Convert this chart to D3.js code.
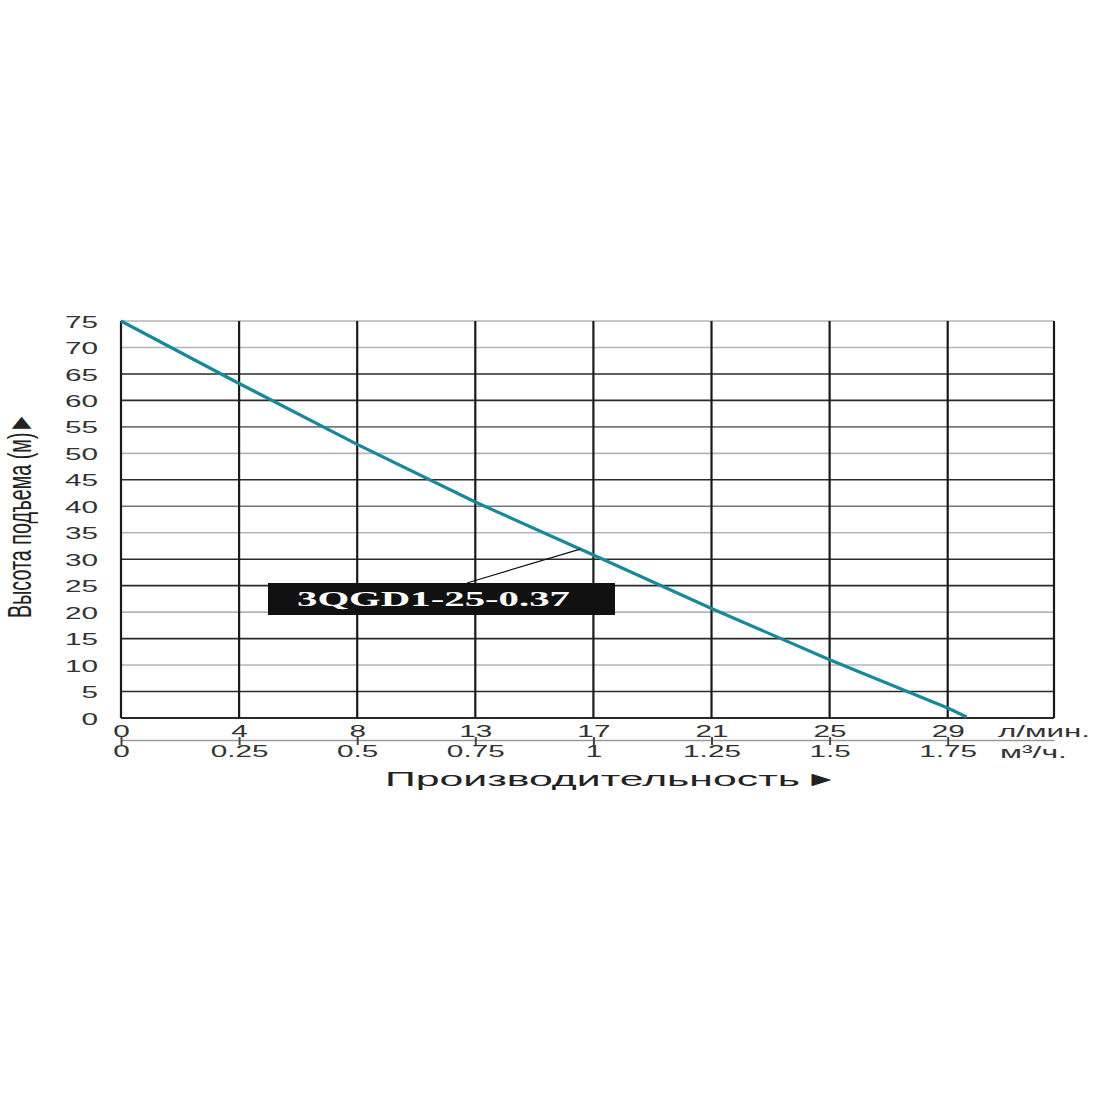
<!DOCTYPE html>
<html>
<head>
<meta charset="utf-8">
<script src="https://cdn.jsdelivr.net/npm/d3@7"></script>
<style>
  html, body { margin: 0; padding: 0; background: #fff; }
  svg { display: block; }
</style>
</head>
<body>
<svg id="chart" width="1100" height="1100"></svg>
<script>
// ---- data ----
const headTicks = [0, 5, 10, 15, 20, 25, 30, 35, 40, 45, 50, 55, 60, 65, 70, 75];
const flowTicksM3 = [0, 0.25, 0.5, 0.75, 1, 1.25, 1.5, 1.75];
const flowTickLabelsM3 = ["0", "0.25", "0.5", "0.75", "1", "1.25", "1.5", "1.75"];
const flowTickLabelsLmin = ["0", "4", "8", "13", "17", "21", "25", "29"];
const curveFlowM3 = [0, 0.25, 0.5, 0.75, 1.0, 1.25, 1.5, 1.75, 1.79];
const curveHead = [75, 63.2, 51.7, 40.8, 30.8, 20.7, 11.0, 1.9, 0.2];
const modelName = "3QGD1-25-0.37";
const labelPointFlow = 0.972;
const labelPointHead = 31.9;

// ---- layout ----
const svg = d3.select("#chart");
const pLeft = 121, pRight = 1054, pTop = 321, pBottom = 718;
const x = d3.scaleLinear().domain([0, 1.975]).range([pLeft, pRight]);
const y = d3.scaleLinear().domain([0, 75]).range([pBottom, pTop]);
const stretch = 1.75;
const tickFont = "'Liberation Sans', Arial, sans-serif";
const textColor = "#333";

// horizontal grid
const lightLines = [75, 70, 50, 35, 20, 10];
const midLines = [55, 40];
svg.append("g").selectAll("line").data(headTicks).join("line")
  .attr("x1", pLeft).attr("x2", pRight)
  .attr("y1", d => y(d)).attr("y2", d => y(d))
  .attr("stroke", d => lightLines.includes(d) ? "#b5b5b5" : (midLines.includes(d) ? "#777" : "#2a2a2a"))
  .attr("stroke-width", d => d === 0 ? 2.2 : 1.6);

// vertical grid (+ right border)
svg.append("g").selectAll("line").data(flowTicksM3.concat([x.domain()[1]])).join("line")
  .attr("x1", d => x(d)).attr("x2", d => x(d))
  .attr("y1", pTop).attr("y2", pBottom)
  .attr("stroke", "#1a1a1a")
  .attr("stroke-width", 2.2);

// y axis labels
const yAxis = svg.append("g").attr("transform", `translate(${pLeft},0)`)
  .call(d3.axisLeft(y).tickValues(headTicks).tickSize(0).tickPadding(0));
yAxis.select(".domain").remove();
yAxis.selectAll("text")
  .attr("x", -23 / stretch)
  .attr("dy", "0.36em")
  .attr("transform", `scale(${stretch},1)`)
  .style("font-family", tickFont).style("font-size", "17px").style("fill", textColor);

// x axis row 1 (l/min)
const xAxis1 = svg.append("g").attr("transform", `translate(0,${pBottom})`)
  .call(d3.axisBottom(x).tickValues(flowTicksM3).tickSize(0)
    .tickFormat((d, i) => flowTickLabelsLmin[i]));
xAxis1.select(".domain").remove();
xAxis1.selectAll("text")
  .attr("y", 13).attr("dy", "0.36em").attr("x", 0)
  .attr("transform", `scale(${stretch},1)`)
  .style("font-family", tickFont).style("font-size", "17px").style("fill", textColor);

// x axis row 2 (m3/h)
const xAxis2 = svg.append("g").attr("transform", `translate(0,740)`)
  .call(d3.axisBottom(x).tickValues(flowTicksM3).tickSizeInner(5).tickSizeOuter(0)
    .tickFormat((d, i) => flowTickLabelsM3[i]));
xAxis2.select(".domain").attr("stroke", "#9a9a9a").attr("stroke-width", 1.5);
xAxis2.selectAll(".tick line").attr("y1", -3).attr("stroke", "#444").attr("stroke-width", 2);
xAxis2.selectAll("text")
  .attr("y", 11).attr("dy", "0.36em").attr("x", 0)
  .attr("transform", `scale(${stretch},1)`)
  .style("font-family", tickFont).style("font-size", "17px").style("fill", textColor);

// unit labels
svg.append("text").attr("x", 998).attr("y", 731).attr("dy", "0.36em")
  .attr("textLength", 92).attr("lengthAdjust", "spacingAndGlyphs")
  .style("font-family", tickFont).style("font-size", "17px").style("fill", textColor)
  .text("л/мин.");
svg.append("text").attr("x", 1000).attr("y", 752).attr("dy", "0.36em")
  .attr("textLength", 67).attr("lengthAdjust", "spacingAndGlyphs")
  .style("font-family", tickFont).style("font-size", "17px").style("fill", textColor)
  .text("м³/ч.");

// axis titles
svg.append("text").attr("x", 385).attr("y", 786)
  .attr("textLength", 415).attr("lengthAdjust", "spacingAndGlyphs")
  .style("font-family", tickFont).style("font-size", "21px").style("fill", "#222")
  .text("Производительность");
svg.append("text").attr("x", 805).attr("y", 786)
  .attr("textLength", 33).attr("lengthAdjust", "spacingAndGlyphs")
  .style("font-family", tickFont).style("font-size", "21px").style("fill", "#222")
  .text("►");
svg.append("text")
  .attr("transform", "translate(31,618) rotate(-90)")
  .attr("textLength", 205).attr("lengthAdjust", "spacingAndGlyphs")
  .style("font-family", "'Liberation Sans Narrow', 'Liberation Sans', Arial, sans-serif")
  .style("font-size", "33px").style("fill", "#222")
  .text("Высота подъема (м)►");

// curve
const pts = curveFlowM3.map((f, i) => [f, curveHead[i]]);
svg.append("path").datum(pts)
  .attr("fill", "none").attr("stroke", "#17899a").attr("stroke-width", 3.2)
  .attr("stroke-linejoin", "round")
  .attr("d", d3.line().x(d => x(d[0])).y(d => y(d[1])).curve(d3.curveLinear));

// model label with leader line
svg.append("line")
  .attr("x1", 467).attr("y1", 583)
  .attr("x2", x(labelPointFlow)).attr("y2", y(labelPointHead))
  .attr("stroke", "#111").attr("stroke-width", 1.2);
svg.append("rect").attr("x", 268).attr("y", 583).attr("width", 347).attr("height", 32)
  .attr("fill", "#111");
svg.append("text").attr("x", 297).attr("y", 606)
  .attr("textLength", 273).attr("lengthAdjust", "spacingAndGlyphs")
  .style("font-family", "'Liberation Serif', 'Times New Roman', serif")
  .style("font-weight", "bold").style("font-size", "20px").style("fill", "#fff")
  .text(modelName);
</script>
</body>
</html>
